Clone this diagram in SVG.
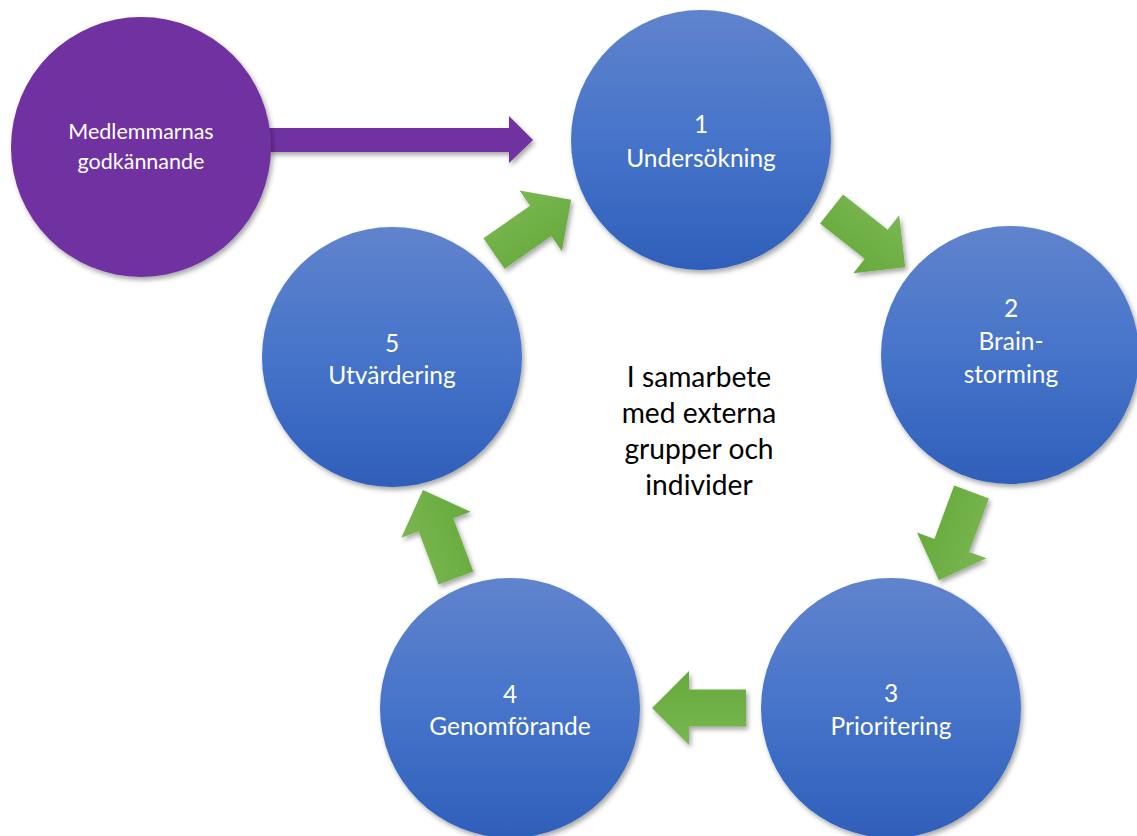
<svg xmlns="http://www.w3.org/2000/svg" width="1137" height="836" viewBox="0 0 1137 836">
  <style>
    .lbl { font-family: Lato, "Open Sans", sans-serif; fill: #ffffff; text-anchor: middle; }
    .big { font-size: 24.5px; }
    .small { font-size: 21.5px; }
    .center { font-family: Lato, "Open Sans", sans-serif; fill: #000000; text-anchor: middle; font-size: 28.2px; }
    .node { fill: url(#blue); }
    .arrow { fill: url(#green); }
  </style>
  <defs>
    <linearGradient id="blue" x1="0" y1="0" x2="0" y2="1">
      <stop offset="0" stop-color="#6083cc"/>
      <stop offset="0.5" stop-color="#4674ca"/>
      <stop offset="1" stop-color="#2e5fba"/>
    </linearGradient>
    <linearGradient id="green" x1="0" y1="0" x2="0" y2="1">
      <stop offset="0" stop-color="#7ab652"/>
      <stop offset="1" stop-color="#66aa3b"/>
    </linearGradient>
    <filter id="sh" x="-20%" y="-20%" width="140%" height="140%">
      <feDropShadow dx="2" dy="3" stdDeviation="2.5" flood-color="#000000" flood-opacity="0.35"/>
    </filter>
    <polygon id="arr" points="0,-18.5 57,-18.5 57,-37 94,0 57,37 57,18.5 0,18.5"/>
  </defs>
  <rect width="1137" height="836" fill="#ffffff"/>

  <g id="connectors">
    <g filter="url(#sh)">
      <polygon fill="#7030a0" points="268,128 509,128 509,116 533,140 509,163 509,152 268,152"/>
    </g>
    <g filter="url(#sh)"><use href="#arr" class="arrow" transform="translate(494,253.5) rotate(-34.9)"/></g>
    <g filter="url(#sh)"><use href="#arr" class="arrow" transform="translate(831.5,209) rotate(38.3)"/></g>
    <g filter="url(#sh)"><use href="#arr" class="arrow" transform="translate(971.5,492) rotate(110.3)"/></g>
    <g filter="url(#sh)"><use href="#arr" class="arrow" transform="translate(746,708) rotate(180)"/></g>
    <g filter="url(#sh)"><use href="#arr" class="arrow" transform="translate(456,578) rotate(249.4)"/></g>
  </g>

  <g id="node-approval">
    <circle cx="141" cy="147" r="130" fill="#7030a0" filter="url(#sh)"/>
    <text class="lbl small" x="141" y="139">Medlemmarnas</text>
    <text class="lbl small" x="141" y="169">godkännande</text>
  </g>

  <g id="node-1">
    <circle class="node" cx="701" cy="140" r="130" filter="url(#sh)"/>
    <text class="lbl big" x="701" y="133">1</text>
    <text class="lbl big" x="701" y="167">Undersökning</text>
  </g>

  <g id="node-2">
    <circle class="node" cx="1010" cy="355" r="129" filter="url(#sh)"/>
    <text class="lbl big" x="1011" y="317">2</text>
    <text class="lbl big" x="1011" y="350">Brain-</text>
    <text class="lbl big" x="1011" y="383">storming</text>
  </g>

  <g id="node-3">
    <circle class="node" cx="891" cy="708" r="130" filter="url(#sh)"/>
    <text class="lbl big" x="891" y="702">3</text>
    <text class="lbl big" x="891" y="735">Prioritering</text>
  </g>

  <g id="node-4">
    <circle class="node" cx="510" cy="708" r="130" filter="url(#sh)"/>
    <text class="lbl big" x="510" y="703">4</text>
    <text class="lbl big" x="510" y="735">Genomförande</text>
  </g>

  <g id="node-5">
    <circle class="node" cx="392" cy="357" r="130" filter="url(#sh)"/>
    <text class="lbl big" x="392" y="352">5</text>
    <text class="lbl big" x="392" y="384">Utvärdering</text>
  </g>

  <g id="center-text">
    <text class="center" x="699" y="387">I samarbete</text>
    <text class="center" x="699" y="423">med externa</text>
    <text class="center" x="699" y="459">grupper och</text>
    <text class="center" x="699" y="495">individer</text>
  </g>
</svg>
